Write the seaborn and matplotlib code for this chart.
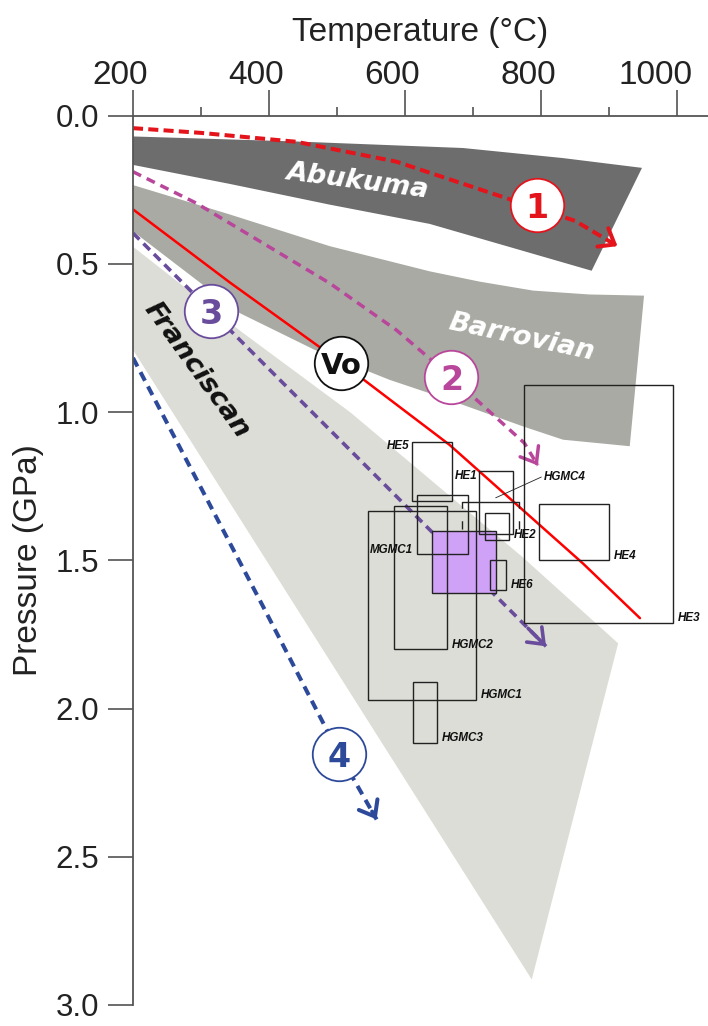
import numpy as np
import matplotlib
matplotlib.use("Agg")
import matplotlib.pyplot as plt
import matplotlib.transforms as mtransforms
from matplotlib.patches import Rectangle
import seaborn as sns

# ---- facies series (temperature in C, pressure in GPa) ----
abukuma_top_t = [200, 440, 685, 832, 948]
abukuma_top_p = [0.07, 0.087, 0.109, 0.143, 0.176]
abukuma_bot_t = [874, 734, 636, 489, 342, 200]
abukuma_bot_p = [0.523, 0.43, 0.365, 0.30, 0.23, 0.166]

barrovian_top_t = [200, 342, 489, 636, 710, 788, 870, 951]
barrovian_top_p = [0.234, 0.333, 0.44, 0.525, 0.56, 0.59, 0.603, 0.607]
barrovian_bot_t = [930, 832, 773, 660, 577, 467, 357, 200]
barrovian_bot_p = [1.115, 1.093, 1.048, 0.955, 0.891, 0.79, 0.666, 0.39]

franciscan_top_t = [200, 360, 519, 773, 913]
franciscan_top_p = [0.442, 0.73, 1.00, 1.49, 1.78]
franciscan_bot_t = [786, 200]
franciscan_bot_p = [2.914, 0.79]

# ---- P-T paths ----
path1_t = [200, 300, 440, 587, 734, 850, 912]
path1_p = [0.042, 0.058, 0.088, 0.155, 0.267, 0.355, 0.44]
path2_t = [200, 293, 391, 489, 587, 668, 775, 795]
path2_p = [0.189, 0.295, 0.43, 0.565, 0.723, 0.882, 1.104, 1.18]
path3_t = [200, 315, 587, 807]
path3_p = [0.396, 0.66, 1.284, 1.79]
path4_t = [200, 391, 503, 558]
path4_p = [0.817, 1.655, 2.153, 2.374]
vo_t = [200, 342, 506, 665, 861, 945]
vo_p = [0.316, 0.562, 0.833, 1.11, 1.51, 1.695]

# ---- circled labels ----
circle_labels = ["1", "2", "3", "4", "Vo"]
circle_t = [793, 668, 315, 503, 506]
circle_p = [0.302, 0.882, 0.66, 2.153, 0.833]

# ---- P-T estimate boxes ----
box_names = ["HE5", "HE1", "MGMC1", "HE2", "HE4", "HE6", "HE3", "HGMC2", "HGMC1", "HGMC3"]
box_tmin = [610, 709, 617, 718, 797, 724, 774, 584, 545, 612]
box_tmax = [669, 758, 692, 752, 899, 748, 994, 662, 704, 647]
box_pmin = [1.10, 1.20, 1.28, 1.34, 1.31, 1.50, 0.91, 1.315, 1.335, 1.91]
box_pmax = [1.30, 1.41, 1.48, 1.43, 1.50, 1.60, 1.71, 1.80, 1.97, 2.115]
box_label_pos = ["tl", "tl", "bl", "br", "br", "br", "br", "br", "br", "br"]

filled_t = [640, 733]
filled_p = [1.40, 1.61]

hgmc4_t = [683, 767]
hgmc4_p = [1.304, 1.40]
hgmc4_leader_t = [733, 800]
hgmc4_leader_p = [1.289, 1.219]

x_ticks = [200, 400, 600, 800, 1000]
x_minor = [300, 500, 700, 900]
y_ticks = [0.0, 0.5, 1.0, 1.5, 2.0, 2.5, 3.0]

RED = "#e3141b"
PINK = "#b8479b"
PURPLE = "#6a4c9c"
BLUE = "#2d4a9a"

sns.set_theme(style="white")
plt.rcParams["font.family"] = ["Liberation Sans", "DejaVu Sans"]

fig = plt.figure(figsize=(7.08, 10.26), dpi=100)
ax = fig.add_axes([133 / 708, 1 - 1005 / 1026, 1 - 133 / 708, (1005 - 115.7) / 1026])

# facies fields
ax.fill(abukuma_top_t + abukuma_bot_t, abukuma_top_p + abukuma_bot_p,
        color="#6d6d6d", lw=0, zorder=1)
ax.fill(barrovian_top_t + barrovian_bot_t, barrovian_top_p + barrovian_bot_p,
        color="#aaaaa4", lw=0, zorder=1)
ax.fill(franciscan_top_t + franciscan_bot_t, franciscan_top_p + franciscan_bot_p,
        color="#dcddd6", lw=0, zorder=1)

# paths
paths = [
    (path1_t, path1_p, RED, 2.9, (2.5, 1.3)),
    (path2_t, path2_p, PINK, 2.5, (2.6, 1.8)),
    (path3_t, path3_p, PURPLE, 2.6, (2.5, 1.6)),
    (path4_t, path4_p, BLUE, 2.9, (2.4, 1.6)),
]
for t, p, col, lw, dash in paths:
    sns.lineplot(x=t, y=p, ax=ax, color=col, lw=lw, sort=False, estimator=None,
                 linestyle=(0, dash), zorder=2)
    tip = np.array([t[-1], p[-1]])
    prev = np.array([t[-2], p[-2]])
    back = tip + 0.12 * (prev - tip)
    ax.annotate("", xy=tip, xytext=back,
                arrowprops=dict(arrowstyle="->,head_length=0.45,head_width=0.35",
                                color=col, lw=lw, mutation_scale=22,
                                shrinkA=0, shrinkB=0),
                zorder=2)

sns.lineplot(x=vo_t, y=vo_p, ax=ax, color="#ff0000", lw=1.8, sort=False,
             estimator=None, zorder=2)

# boxes
ax.add_patch(Rectangle((filled_t[0], filled_p[0]), filled_t[1] - filled_t[0],
                       filled_p[1] - filled_p[0], facecolor="#d0a2f7",
                       edgecolor="none", zorder=3))
box_kw = dict(fill=False, edgecolor="#222222", lw=1.0, zorder=4)
ax.add_patch(Rectangle((filled_t[0], filled_p[0]), filled_t[1] - filled_t[0],
                       filled_p[1] - filled_p[0], **box_kw))
lab_kw = dict(textcoords="offset points", fontsize=8.4, fontweight="bold",
              fontstyle="italic", color="#111111", zorder=6)
for name, t0, t1, p0, p1, pos in zip(box_names, box_tmin, box_tmax,
                                     box_pmin, box_pmax, box_label_pos):
    ax.add_patch(Rectangle((t0, p0), t1 - t0, p1 - p0, **box_kw))
    if pos == "tl":
        ax.annotate(name, (t0, p0), xytext=(-1.5, 1), ha="right", va="top", **lab_kw)
    elif pos == "bl":
        ax.annotate(name, (t0, p1), xytext=(-2.5, -1), ha="right", va="bottom", **lab_kw)
    else:
        ax.annotate(name, (t1, p1), xytext=(3.5, -1), ha="left", va="bottom", **lab_kw)

# HGMC4: solid top, broken sides, and a leader to its label
ax.plot(hgmc4_t, [hgmc4_p[0]] * 2, color="#222222", lw=1.0, zorder=4)
for t in hgmc4_t:
    ax.plot([t, t], hgmc4_p, color="#222222", lw=1.0, zorder=4,
            linestyle=(0, (4.5, 9, 6, 20)))
ax.plot(hgmc4_leader_t, hgmc4_leader_p, color="#222222", lw=0.6, zorder=4)
ax.annotate("HGMC4", (hgmc4_leader_t[1], hgmc4_leader_p[1]), xytext=(2, 0),
            ha="left", va="center", **lab_kw)

# circled path labels
circle_cols = [RED, PINK, PURPLE, BLUE, "#111111"]
for lab, t, p, col in zip(circle_labels, circle_t, circle_p, circle_cols):
    ax.plot(t, p, marker="o", ms=38.5, mfc="white", mec=col, mew=1.3, zorder=5)
    ax.text(t, p, lab, ha="center", va="center_baseline", color=col,
            fontsize=24 if lab != "Vo" else 21, fontweight="bold",
            family=["DejaVu Sans"], zorder=6)

# facies names
field_kw = dict(family=["DejaVu Sans"], fontweight="bold", fontstyle="italic",
                fontsize=19.5, ha="center", va="center", rotation_mode="anchor", zorder=6)
ax.text(531, 0.222, "Abukuma", color="white", rotation=-7.4, **field_kw)
ax.text(771, 0.75, "Barrovian", color="white", rotation=-12, **field_kw)
ax.text(293, 0.857, "Franciscan", color="#111111", rotation=-54, **field_kw)

# axes
ax.set_xlim(200, 1045)
ax.set_ylim(3.0, 0.0)
ax.xaxis.tick_top()
ax.xaxis.set_label_position("top")
ax.set_xticks(x_ticks)
ax.set_xticks(x_minor, minor=True)
ax.set_xticklabels([str(v) for v in x_ticks])
ax.set_yticks(y_ticks)
ax.set_yticklabels([f"{v:.1f}" for v in y_ticks])
ax.tick_params(axis="x", which="major", direction="out", length=18.5, width=1.1,
               color="#444444", pad=-1, labelsize=24, labelcolor="#222222",
               top=True, bottom=False, labeltop=True, labelbottom=False)
ax.tick_params(axis="x", which="minor", direction="out", length=6.5, width=1.1,
               color="#444444", top=True, bottom=False)
ax.tick_params(axis="y", which="major", direction="out", length=18, width=1.1,
               color="#444444", pad=6.5, labelsize=22.5, labelcolor="#222222", left=True)
offset = mtransforms.ScaledTranslation(15 / 100, 0, fig.dpi_scale_trans)
for lab in ax.get_xticklabels():
    lab.set_horizontalalignment("right")
    lab.set_transform(lab.get_transform() + offset)

ax.set_xlabel("Temperature (°C)", fontsize=24, color="#222222", labelpad=14)
ax.set_ylabel("Pressure (GPa)", fontsize=24, color="#222222", labelpad=8)

for side in ["right", "bottom"]:
    ax.spines[side].set_visible(False)
for side in ["left", "top"]:
    ax.spines[side].set_color("#555555")
    ax.spines[side].set_linewidth(1.3)

fig.savefig("out.png", dpi=100)
